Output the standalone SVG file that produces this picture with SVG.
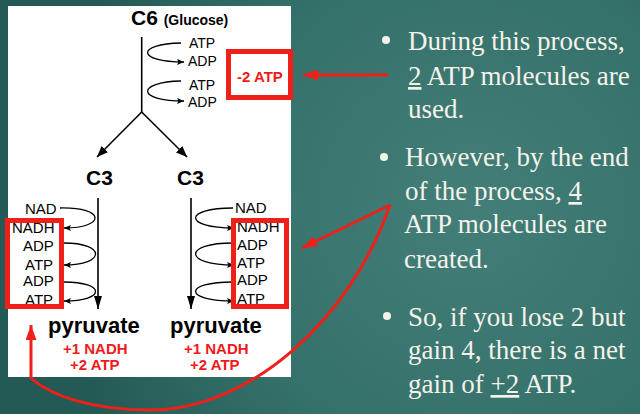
<svg xmlns="http://www.w3.org/2000/svg" width="640" height="414" viewBox="0 0 640 414">
<defs>
<radialGradient id="bg" cx="470" cy="210" r="420" gradientUnits="userSpaceOnUse">
<stop offset="0" stop-color="#437f78"/>
<stop offset="0.6" stop-color="#34716a"/>
<stop offset="1" stop-color="#245a55"/>
</radialGradient>
<marker id="ah" markerUnits="userSpaceOnUse" markerWidth="11" markerHeight="9" refX="11" refY="4.5" orient="auto"><path d="M0,0 L11,4.5 L0,9 z" fill="#000"/></marker>
<marker id="ahv" markerUnits="userSpaceOnUse" markerWidth="13" markerHeight="8" refX="13" refY="4" orient="auto"><path d="M0,0 L13,4 L0,8 z" fill="#000"/></marker>
<marker id="sm" markerUnits="userSpaceOnUse" markerWidth="7" markerHeight="6" refX="7" refY="3" orient="auto"><path d="M0,0 L7,3 L0,6 L1.5,3 z" fill="#000"/></marker>
<marker id="ra" markerUnits="userSpaceOnUse" markerWidth="15" markerHeight="11" refX="15" refY="5.5" orient="auto"><path d="M0,0 L15,5.5 L0,11 z" fill="#ee2019"/></marker>
</defs>
<style>
.lbl{font-family:"Liberation Sans",Arial,sans-serif;font-size:14px;fill:#000}
.lb2{font-family:"Liberation Sans",Arial,sans-serif;font-size:15px;fill:#000}
.big{font-family:"Liberation Sans",Arial,sans-serif;font-size:21px;font-weight:bold;fill:#000}
.pyr{font-family:"Liberation Sans",Arial,sans-serif;font-size:22px;font-weight:bold;fill:#000}
.red{font-family:"Liberation Sans",Arial,sans-serif;font-size:15px;font-weight:bold;fill:#f01a1a}
.box{fill:none;stroke:#ee2019;stroke-width:5}
.ln{fill:none;stroke:#000;stroke-width:1.6}
.lp{fill:none;stroke:#000;stroke-width:1.3}
.rl{fill:none;stroke:#ee2019;stroke-width:3}
.bt{font-family:"Liberation Serif","Times New Roman",serif;font-size:27px;fill:#f5f2ea}
.dot{fill:#f5f2ea}
</style>
<rect x="0" y="0" width="640" height="414" fill="url(#bg)"/>
<rect id="panel" x="8" y="6" width="283" height="371" fill="#ffffff"/>

<g id="connectors">
<path class="ln" d="M141.7,37 L141.7,112"/>
<path class="ln" d="M141.7,112 L97,157" marker-end="url(#ah)"/>
<path class="ln" d="M141.7,112 L187,157" marker-end="url(#ah)"/>
<path class="lp" d="M181,43 C136,44 136,62 184,62" marker-end="url(#sm)"/>
<path class="lp" d="M181,81 C136,82 136,101 184,101" marker-end="url(#sm)"/>
<path class="ln" d="M98,198 L98,309" marker-end="url(#ahv)"/>
<path class="ln" d="M191,198 L191,309" marker-end="url(#ahv)"/>
<path class="lp" d="M60,208 C106,207 106,228 64,228" marker-end="url(#sm)"/>
<path class="lp" d="M64,243 C106,243 106,265 64,265" marker-end="url(#sm)"/>
<path class="lp" d="M64,282 C106,282 106,301 64,301" marker-end="url(#sm)"/>
<path class="lp" d="M233,208 C183,208 183,228 234,228" marker-end="url(#sm)"/>
<path class="lp" d="M233,243 C183,243 183,265 234,265" marker-end="url(#sm)"/>
<path class="lp" d="M233,282 C183,282 183,301 234,301" marker-end="url(#sm)"/>
<path class="rl" d="M388,75 L303,75" marker-end="url(#ra)"/>
<path class="rl" d="M390,205 L302,248" marker-end="url(#ra)"/>
<path class="rl" d="M390,205 C350,320 250,410 150,410 C90,410 50,395 31,378 L31,325" marker-end="url(#ra)"/>
</g>

<g id="glucose"><text class="big" x="131" y="25">C6 <tspan font-size="14">(Glucose)</tspan></text></g>
<g id="top-cofactors">
<text class="lbl" x="189" y="48">ATP</text>
<text class="lbl" x="188" y="66">ADP</text>
<text class="lbl" x="189" y="90">ATP</text>
<text class="lbl" x="188" y="107">ADP</text>
</g>
<g id="minus2atp">
<rect class="box" x="228.5" y="51.5" width="62" height="46"/>
<text class="red" x="237" y="82">-2 ATP</text>
</g>
<g id="c3-left"><text class="big" x="86" y="185">C3</text></g>
<g id="c3-right"><text class="big" x="177" y="185">C3</text></g>

<g id="left-cofactors">
<text class="lb2" x="25" y="214">NAD</text>
<text class="lb2" x="12" y="233">NADH</text>
<text class="lb2" x="23" y="251">ADP</text>
<text class="lb2" x="25" y="270">ATP</text>
<text class="lb2" x="23" y="286">ADP</text>
<text class="lb2" x="25" y="305">ATP</text>
<rect class="box" x="7.5" y="220.5" width="54" height="86"/>
</g>
<g id="right-cofactors">
<text class="lb2" x="235" y="213">NAD</text>
<text class="lb2" x="237" y="232">NADH</text>
<text class="lb2" x="237" y="250">ADP</text>
<text class="lb2" x="237" y="268">ATP</text>
<text class="lb2" x="237" y="285">ADP</text>
<text class="lb2" x="237" y="304">ATP</text>
<rect class="box" x="233.5" y="220.5" width="53" height="86"/>
</g>
<g id="pyruvate-left">
<text class="pyr" x="48" y="333">pyruvate</text>
<text class="red" x="63" y="354">+1 NADH</text>
<text class="red" x="70" y="370">+2 ATP</text>
</g>
<g id="pyruvate-right">
<text class="pyr" x="170" y="333">pyruvate</text>
<text class="red" x="184" y="354">+1 NADH</text>
<text class="red" x="190" y="370">+2 ATP</text>
</g>

<g id="bullet1">
<circle class="dot" cx="386" cy="40" r="4"/>
<text class="bt" x="408" y="50">During this process,</text>
<text class="bt" x="408" y="85"><tspan text-decoration="underline">2</tspan> ATP molecules are</text>
<text class="bt" x="408" y="118">used.</text>
</g>
<g id="bullet2">
<circle class="dot" cx="384" cy="157" r="4"/>
<text class="bt" x="405" y="166">However, by the end</text>
<text class="bt" x="405" y="200">of the process, <tspan text-decoration="underline">4</tspan></text>
<text class="bt" x="404" y="233">ATP molecules are</text>
<text class="bt" x="404" y="268">created.</text>
</g>
<g id="bullet3">
<circle class="dot" cx="387" cy="316" r="4"/>
<text class="bt" x="408" y="326">So, if you lose 2 but</text>
<text class="bt" x="408" y="359">gain 4, there is a net</text>
<text class="bt" x="408" y="393">gain of <tspan text-decoration="underline">+2</tspan> ATP.</text>
</g>
</svg>
